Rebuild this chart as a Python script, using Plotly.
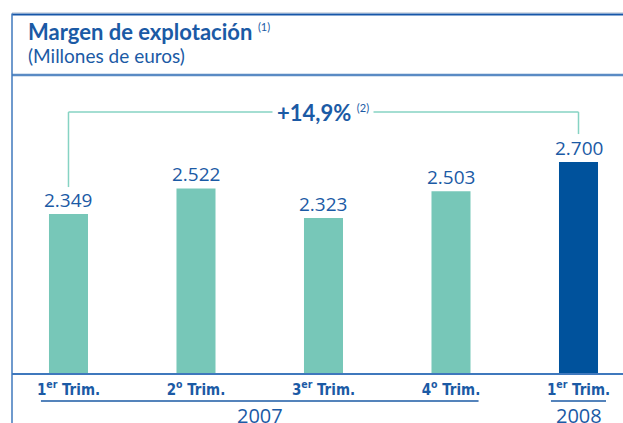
import plotly.graph_objects as go

# data
quarters = ["1<sup>er</sup> Trim.", "2<sup>o</sup> Trim.", "3<sup>er</sup> Trim.",
            "4<sup>o</sup> Trim.", "1<sup>er</sup> Trim."]
values = [2349, 2522, 2323, 2503, 2700]
years = ["2007", "2008"]
year_spans = [(0, 3), (4, 4)]

teal = "#77c7b8"
navy = "#00529c"
text_blue = "#1b5aa5"
frame_blue = "#3f78bd"
bracket = "#86d3c3"
bar_colors = [teal, teal, teal, teal, navy]

W, H = 623, 423
m_l, m_r, m_t, m_b = 12, 0, 76, 50
plot_h = H - m_t - m_b
plot_w = W - m_l - m_r


def py(pix):
    # pixel row -> paper y
    return (H - m_b - pix) / plot_h


def px(pix):
    # pixel column -> paper x
    return (pix - m_l) / plot_w


def fmt(v):
    return f"{v:,}".replace(",", ".")


growth = (values[-1] / values[0] - 1) * 100
growth_txt = "+" + f"{growth:.1f}".replace(".", ",") + "%"
small_sup = "<sup><span style='font-size:11px'>{}</span></sup>"

fig = go.Figure()
fig.add_trace(go.Bar(
    x=list(range(len(values))), y=values,
    marker_color=bar_colors, marker_line_width=0,
    width=0.306, hoverinfo="skip"
))

annotations = []
for i, v in enumerate(values):
    annotations.append(dict(
        x=i, y=v, xref="x", yref="y", text=fmt(v), showarrow=False,
        yanchor="bottom", yshift=-1,
        font=dict(family="Open Sans", size=19, color=text_blue)
    ))

# growth bracket
annotations.append(dict(
    x=2, y=values[0], xref="x", yref="y", yshift=102, yanchor="middle",
    text="<b>" + growth_txt + "</b> " + small_sup.format("(2)"), showarrow=False,
    bgcolor="white", borderpad=4,
    font=dict(family="Lato", size=22, color=text_blue)
))

shapes = [
    dict(type="line", xref="x", yref="y", x0=0, x1=0, ysizemode="pixel",
         yanchor=values[0], y0=27, y1=102, line=dict(color=bracket, width=1.5)),
    dict(type="line", xref="x", yref="y", x0=0, x1=len(values) - 1, ysizemode="pixel",
         yanchor=values[0], y0=102, y1=102, line=dict(color=bracket, width=1.5)),
    dict(type="line", xref="x", yref="y", x0=len(values) - 1, x1=len(values) - 1,
         ysizemode="pixel", yanchor=values[-1], y0=28, y1=50,
         line=dict(color=bracket, width=1.5)),
]

# frame
shapes += [
    dict(type="line", xref="paper", yref="paper", x0=0, x1=1.01, y0=py(12.5), y1=py(12.5),
         line=dict(color="#d5dbe3", width=1)),
    dict(type="line", xref="paper", yref="paper", x0=0, x1=1.01, y0=py(14.5), y1=py(14.5),
         line=dict(color="#1656a8", width=2)),
    dict(type="line", xref="paper", yref="paper", x0=0, x1=1.01, y0=py(75), y1=py(75),
         line=dict(color="#5a8bc4", width=2.5)),
    dict(type="line", xref="paper", yref="paper", x0=0, x1=0, y0=py(13.5), y1=py(430),
         line=dict(color=frame_blue, width=1.5)),
]

# year groups
for yr, (a, b) in zip(years, year_spans):
    shapes.append(dict(type="line", xref="x", yref="paper", x0=a - 0.216, x1=b + 0.216,
                       y0=py(401), y1=py(401), line=dict(color=text_blue, width=1.5)))
    annotations.append(dict(
        x=(a + b) / 2, y=py(400), xref="x", yref="paper", yanchor="top",
        text=yr, showarrow=False,
        font=dict(family="Open Sans", size=20, color=text_blue)
    ))

# header
annotations.append(dict(
    x=px(26), y=py(16), xref="paper", yref="paper", xanchor="left", yanchor="top",
    text="<b>Margen de explotación</b> " + small_sup.format("(1)"), showarrow=False,
    font=dict(family="Lato", size=22, color=text_blue)
))
annotations.append(dict(
    x=px(26), y=py(42), xref="paper", yref="paper", xanchor="left", yanchor="top",
    text="(Millones de euros)", showarrow=False,
    font=dict(family="Lato", size=19, color=text_blue)
))

fig.update_layout(
    width=W, height=H,
    margin=dict(l=m_l, r=m_r, t=m_t, b=m_b, pad=0),
    paper_bgcolor="white", plot_bgcolor="white",
    showlegend=False,
    separators=",.",
    annotations=annotations,
    shapes=shapes,
    xaxis=dict(
        range=[-0.443, 4.349], tickvals=list(range(len(values))), ticktext=quarters,
        showgrid=False, zeroline=False, showline=True, linecolor=frame_blue, linewidth=1.5,
        ticks="", ticklabelstandoff=2,
        tickfont=dict(family="DejaVu Sans Condensed, Roboto, sans-serif", size=15,
                      color=text_blue, weight="bold"),
        fixedrange=True
    ),
    yaxis=dict(
        range=[1276, 3281], visible=False, showgrid=False, zeroline=False, fixedrange=True
    ),
)

fig.write_html("out.html", config={"displayModeBar": False},
               post_script="document.body.style.margin='0';document.body.style.overflow='hidden';")
